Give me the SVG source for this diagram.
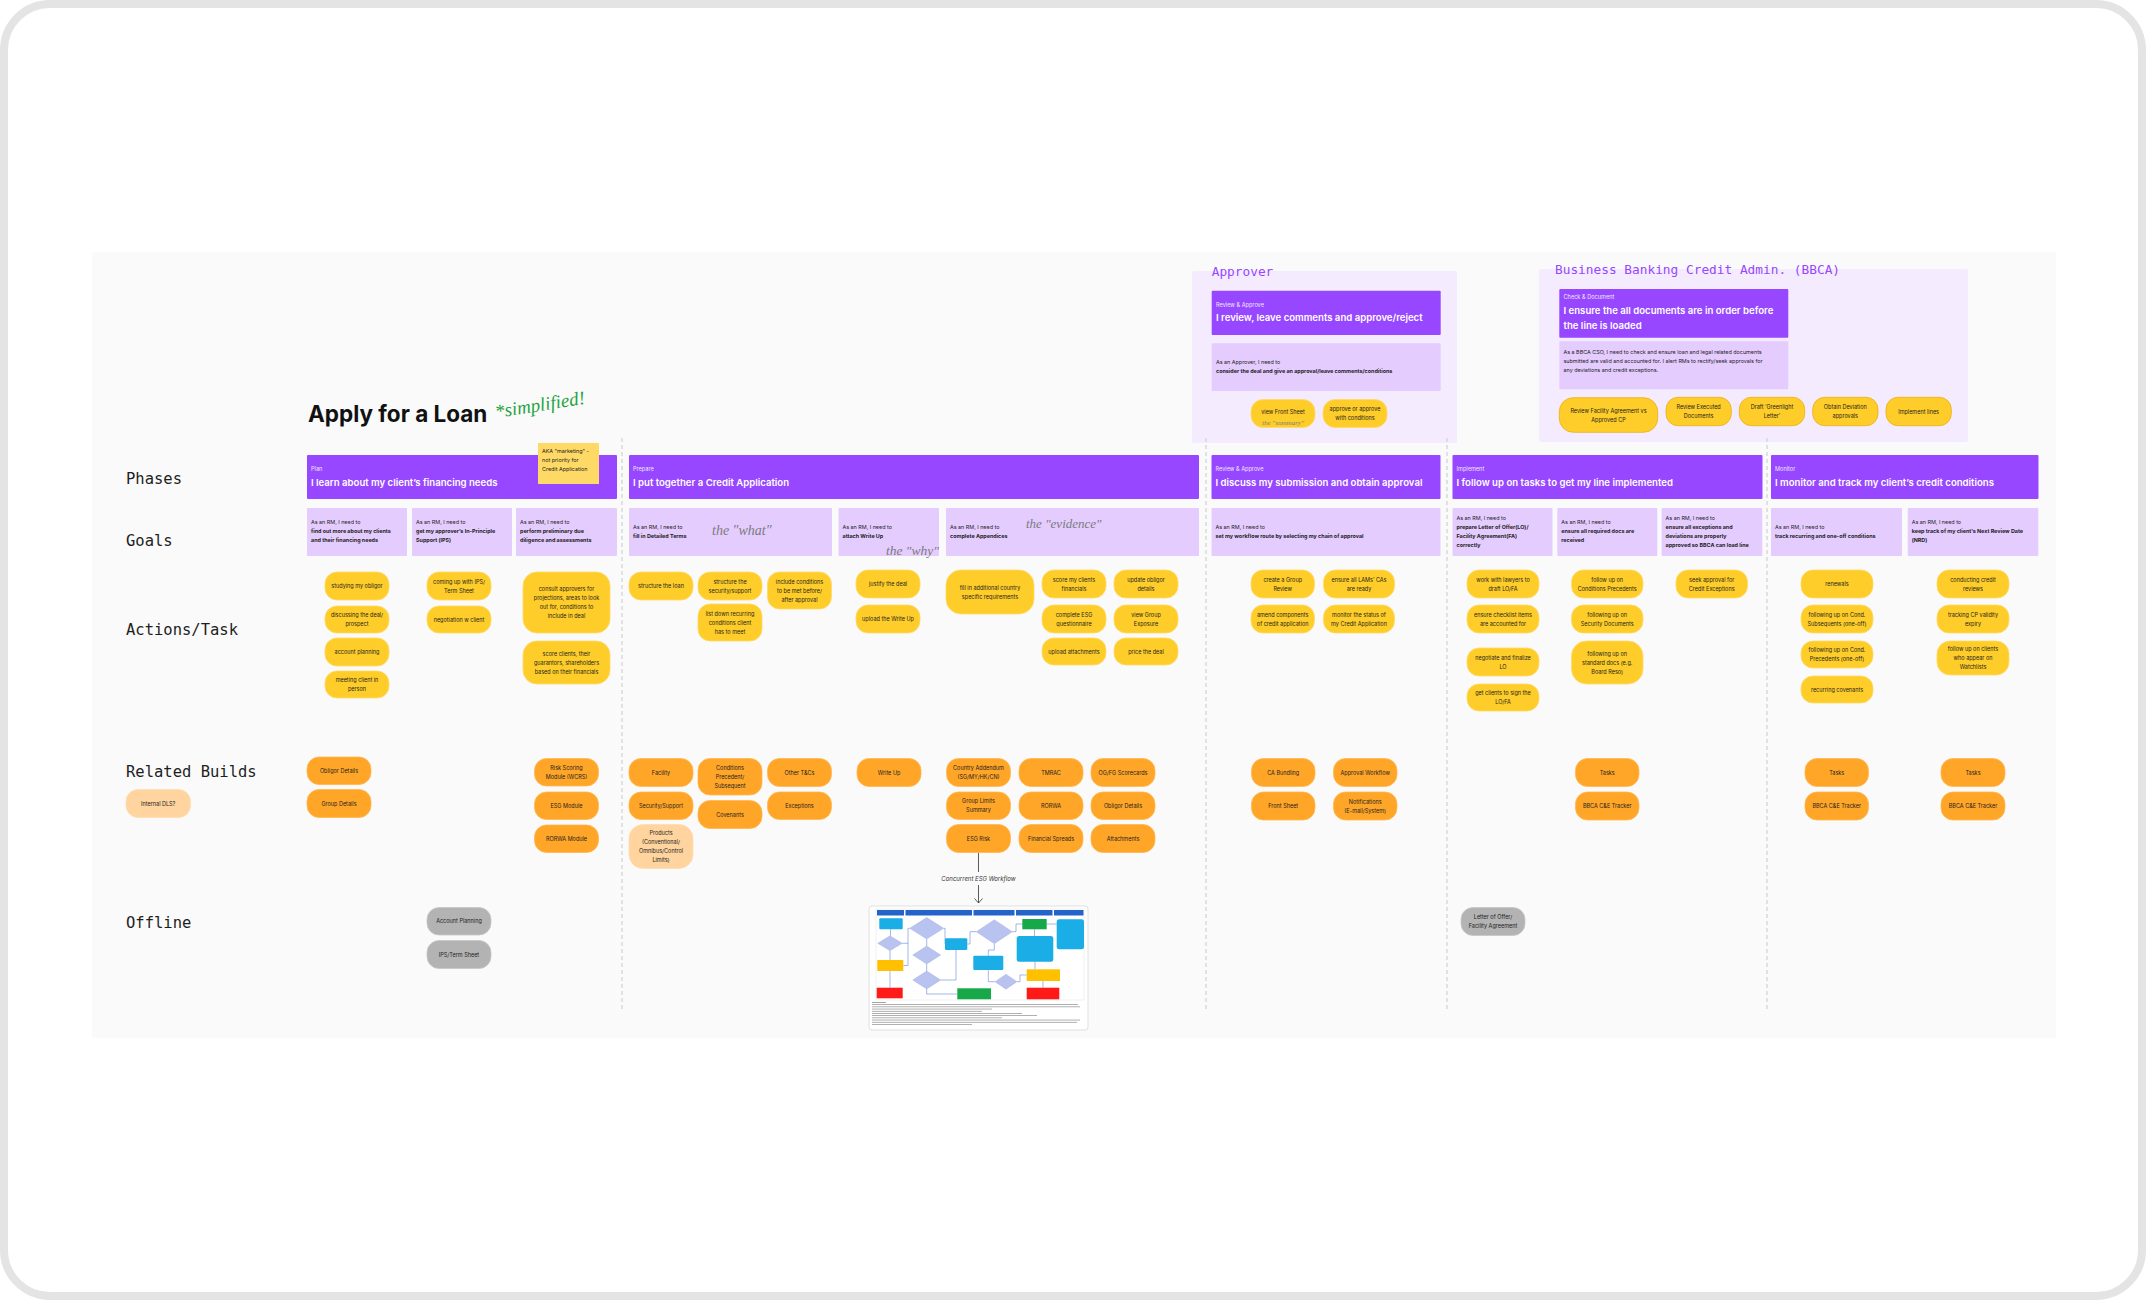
<svg xmlns="http://www.w3.org/2000/svg" width="2146" height="1300" viewBox="0 0 2146 1300">
<defs>
<style>
.hdr{fill:#9747FF}
.goal{fill:#E4CCFF}
.lane{fill:#F4EBFF}
.act{fill:#FFCD29;stroke:#FFD966;stroke-width:0.8}
.actb{fill:#FFCD29;stroke:#EAAE12;stroke-width:0.8}
.bld{fill:#FFA629;stroke:#FFB84F;stroke-width:0.8}
.bldl{fill:#FFD49E;stroke:#FFDDB3;stroke-width:0.8}
.off{fill:#B3B3B3;stroke:#C6C6C6;stroke-width:0.8}
.hs{font-family:Inter,"Liberation Sans",sans-serif;font-size:5.6px;fill:#F1E6FF}
.hm{font-family:Inter,"Liberation Sans",sans-serif;font-size:9.6px;font-weight:600;fill:#FFFFFF}
.g{font-family:Inter,"Liberation Sans",sans-serif;font-size:5.4px;fill:#1E1E1E}
.gb{font-weight:700}
.t{font-family:Inter,"Liberation Sans",sans-serif;font-size:5.5px;fill:#1E1E1E;text-anchor:middle}
.lbl{font-family:"DejaVu Sans Mono","Liberation Mono",monospace;font-size:15.5px;fill:#1E1E1E}
.role{font-family:"DejaVu Sans Mono","Liberation Mono",monospace;font-size:12.8px;fill:#9747FF}
.hand{font-family:"Liberation Serif",serif;font-style:italic;fill:#7B7B7B}
.dv{stroke:#C8C8C8;stroke-width:1;stroke-dasharray:4 3;fill:none}
.fl{stroke:#4A6FD0;stroke-width:0.5;fill:none}
.nt{fill:#8F8F8F}
</style>
</defs>

<g id="frame">
<rect x="4" y="4" width="2138" height="1292" rx="46" fill="#FFFFFF" stroke="#E4E4E4" stroke-width="8"/>
<rect x="92" y="252" width="1964" height="786" rx="2" fill="#FAFAFA"/>
</g>

<g id="role-approver">
<rect class="lane" x="1192" y="271" width="265" height="172" rx="2"/>
<text class="role" x="1211.7" y="275.7">Approver</text>
</g>
<g id="role-bbca">
<rect class="lane" x="1539" y="269" width="429" height="173" rx="2"/>
<text class="role" x="1555" y="274">Business Banking Credit Admin. (BBCA)</text>
</g>

<g id="connectors">
<line class="dv" x1="622" y1="438" x2="622" y2="1012"/>
<line class="dv" x1="1206" y1="438" x2="1206" y2="1012"/>
<line class="dv" x1="1447" y1="438" x2="1447" y2="1012"/>
<line class="dv" x1="1767" y1="438" x2="1767" y2="1012"/>
<line x1="978.5" y1="852.5" x2="978.5" y2="872" stroke="#333333" stroke-width="0.8"/>
<text x="978.5" y="880.5" text-anchor="middle" font-family="Inter,'Liberation Sans',sans-serif" font-size="6px" font-style="italic" fill="#333333">Concurrent ESG Workflow</text>
<line x1="978.5" y1="885" x2="978.5" y2="903" stroke="#333333" stroke-width="0.8"/>
<path d="M974.5,898.5 L978.5,903 L982.5,898.5" stroke="#333333" stroke-width="0.8" fill="none"/>
</g>

<g id="row-labels">
<text class="lbl" x="126" y="484">Phases</text>
<text class="lbl" x="126" y="546">Goals</text>
<text class="lbl" x="126" y="635">Actions/Task</text>
<text class="lbl" x="126" y="777">Related Builds</text>
<text class="lbl" x="126" y="928">Offline</text>
</g>

<g id="title">
<text x="308" y="422" font-family="Inter,'Liberation Sans',sans-serif" font-size="22.5px" font-weight="700" fill="#111111">Apply for a Loan</text>
<text x="496" y="418" transform="rotate(-9 496 418)" font-family="'Liberation Serif',serif" font-style="italic" font-size="19px" fill="#1FA33F">*simplified!</text>
</g>

<!-- PHASES -->
<g id="phase-plan">
<rect class="hdr" x="307" y="455" width="310" height="44" rx="1"/>
<text class="hs" x="311" y="471">Plan</text>
<text class="hm" x="311" y="486">I learn about my client’s financing needs</text>
</g>
<g id="note-aka">
<rect x="538" y="443" width="61" height="41" fill="#FFD966"/>
<text class="g" x="542" y="453">AKA "marketing" -</text>
<text class="g" x="542" y="462">not priority for</text>
<text class="g" x="542" y="471">Credit Application</text>
</g>
<g id="phase-prepare">
<rect class="hdr" x="629" y="455" width="570" height="44" rx="1"/>
<text class="hs" x="633" y="471">Prepare</text>
<text class="hm" x="633" y="486">I put together a Credit Application</text>
</g>
<g id="phase-review">
<rect class="hdr" x="1211.5" y="455" width="229" height="44" rx="1"/>
<text class="hs" x="1215.5" y="471">Review &amp; Approve</text>
<text class="hm" x="1215.5" y="486">I discuss my submission and obtain approval</text>
</g>
<g id="phase-implement">
<rect class="hdr" x="1452.5" y="455" width="310" height="44" rx="1"/>
<text class="hs" x="1456.5" y="471">Implement</text>
<text class="hm" x="1456.5" y="486">I follow up on tasks to get my line implemented</text>
</g>
<g id="phase-monitor">
<rect class="hdr" x="1771" y="455" width="267.5" height="44" rx="1"/>
<text class="hs" x="1775" y="471">Monitor</text>
<text class="hm" x="1775" y="486">I monitor and track my client’s credit conditions</text>
</g>
<g id="phase-approver">
<rect class="hdr" x="1211.7" y="290.7" width="229" height="44.3" rx="1"/>
<text class="hs" x="1216" y="306.7">Review &amp; Approve</text>
<text class="hm" x="1216" y="320.7">I review, leave comments and approve/reject</text>
</g>
<g id="phase-bbca">
<rect class="hdr" x="1559.3" y="289" width="229" height="48.7" rx="1"/>
<text class="hs" x="1563.5" y="299.3">Check &amp; Document</text>
<text class="hm" x="1563.5" y="314.3">I ensure the all documents are in order before</text>
<text class="hm" x="1563.5" y="329">the line is loaded</text>
</g>

<!-- GOALS -->
<g id="goal-plan-1"><rect class="goal" x="307" y="508" width="100" height="48" rx="1"/>
<text class="g" x="311" y="524.3">As an RM, I need to</text><text class="g gb" x="311" y="533.3">find out more about my clients</text><text class="g gb" x="311" y="542.3">and their financing needs</text></g>
<g id="goal-plan-2"><rect class="goal" x="412" y="508" width="100" height="48" rx="1"/>
<text class="g" x="416" y="524.3">As an RM, I need to</text><text class="g gb" x="416" y="533.3">get my approver’s In-Principle</text><text class="g gb" x="416" y="542.3">Support (IPS)</text></g>
<g id="goal-plan-3"><rect class="goal" x="516" y="508" width="101" height="48" rx="1"/>
<text class="g" x="520" y="524.3">As an RM, I need to</text><text class="g gb" x="520" y="533.3">perform preliminary due</text><text class="g gb" x="520" y="542.3">diligence and assessments</text></g>

<g id="goal-prep-1"><rect class="goal" x="629" y="508" width="203" height="48" rx="1"/>
<text class="g" x="633" y="529">As an RM, I need to</text><text class="g gb" x="633" y="538">fill in Detailed Terms</text>
<text class="hand" x="712" y="535" font-size="14px">the "what"</text></g>
<g id="goal-prep-2"><rect class="goal" x="838.5" y="508" width="100.5" height="48" rx="1"/>
<text class="g" x="842.5" y="529">As an RM, I need to</text><text class="g gb" x="842.5" y="538">attach Write Up</text></g>
<g id="goal-prep-3"><rect class="goal" x="946" y="508" width="253" height="48" rx="1"/>
<text class="g" x="950" y="529">As an RM, I need to</text><text class="g gb" x="950" y="538">complete Appendices</text>
<text class="hand" x="1026" y="528" font-size="13px">the "evidence"</text></g>
<text class="hand" x="886" y="555" font-size="13.5px">the "why"</text>

<g id="goal-review"><rect class="goal" x="1211.5" y="508" width="229" height="48" rx="1"/>
<text class="g" x="1215.5" y="529">As an RM, I need to</text><text class="g gb" x="1215.5" y="538">set my workflow route by selecting my chain of approval</text></g>

<g id="goal-impl-1"><rect class="goal" x="1452.5" y="508" width="100" height="48" rx="1"/>
<text class="g" x="1456.5" y="520">As an RM, I need to</text><text class="g gb" x="1456.5" y="529">prepare Letter of Offer(LO)/</text><text class="g gb" x="1456.5" y="538">Facility Agreement(FA)</text><text class="g gb" x="1456.5" y="547">correctly</text></g>
<g id="goal-impl-2"><rect class="goal" x="1557.3" y="508" width="100" height="48" rx="1"/>
<text class="g" x="1561.3" y="524">As an RM, I need to</text><text class="g gb" x="1561.3" y="533">ensure all required docs are</text><text class="g gb" x="1561.3" y="542">received</text></g>
<g id="goal-impl-3"><rect class="goal" x="1661.6" y="508" width="100.7" height="48" rx="1"/>
<text class="g" x="1665.6" y="520">As an RM, I need to</text><text class="g gb" x="1665.6" y="529">ensure all exceptions and</text><text class="g gb" x="1665.6" y="538">deviations are properly</text><text class="g gb" x="1665.6" y="547">approved so BBCA can load line</text></g>

<g id="goal-mon-1"><rect class="goal" x="1771" y="508" width="131" height="48" rx="1"/>
<text class="g" x="1775" y="529">As an RM, I need to</text><text class="g gb" x="1775" y="538">track recurring and one-off conditions</text></g>
<g id="goal-mon-2"><rect class="goal" x="1907.7" y="508" width="130.6" height="48" rx="1"/>
<text class="g" x="1911.7" y="524">As an RM, I need to</text><text class="g gb" x="1911.7" y="533">keep track of my client’s Next Review Date</text><text class="g gb" x="1911.7" y="542">(NRD)</text></g>

<g id="goal-approver"><rect class="goal" x="1211.7" y="343.3" width="229" height="47.7" rx="1"/>
<text class="g" x="1216" y="364.3">As an Approver, I need to</text><text class="g gb" x="1216" y="373.3">consider the deal and give an approval/leave comments/conditions</text></g>
<g id="goal-bbca"><rect class="goal" x="1559.3" y="341.3" width="229" height="48" rx="1"/>
<text class="g" x="1563.5" y="354.3">As a BBCA CSO, I need to check and ensure loan and legal related documents</text><text class="g" x="1563.5" y="363.3">submitted are valid and accounted for. I alert RMs to rectify/seek approvals for</text><text class="g" x="1563.5" y="372.3">any deviations and credit exceptions.</text></g>

<!-- ACTIONS: PLAN -->
<g id="act-studying"><rect class="act" x="325" y="572" width="64" height="28" rx="12"/><text class="t" x="357" y="588">studying my obligor</text></g>
<g id="act-discussing"><rect class="act" x="325" y="606" width="64" height="27" rx="12"/><text class="t"><tspan x="357" y="617">discussing the deal/</tspan><tspan x="357" y="626">prospect</tspan></text></g>
<g id="act-accplan"><rect class="act" x="325" y="638" width="64" height="28" rx="12"/><text class="t" x="357" y="654">account planning</text></g>
<g id="act-meeting"><rect class="act" x="325" y="671" width="64" height="27" rx="12"/><text class="t"><tspan x="357" y="682">meeting client in</tspan><tspan x="357" y="691">person</tspan></text></g>
<g id="act-ips"><rect class="act" x="427" y="572" width="64" height="28" rx="12"/><text class="t"><tspan x="459" y="583.5">coming up with IPS/</tspan><tspan x="459" y="592.5">Term Sheet</tspan></text></g>
<g id="act-negotiation"><rect class="act" x="427" y="606" width="64" height="27" rx="12"/><text class="t" x="459" y="621.5">negotiation w client</text></g>
<g id="act-consult"><rect class="act" x="523" y="572" width="87" height="61" rx="14"/><text class="t"><tspan x="566.5" y="591">consult approvers for</tspan><tspan x="566.5" y="600">projections, areas to look</tspan><tspan x="566.5" y="609">out for, conditions to</tspan><tspan x="566.5" y="618">include in deal</tspan></text></g>
<g id="act-score"><rect class="act" x="523" y="641" width="87" height="43" rx="14"/><text class="t"><tspan x="566.5" y="655.5">score clients, their</tspan><tspan x="566.5" y="664.5">guarantors, shareholders</tspan><tspan x="566.5" y="673.5">based on their financials</tspan></text></g>

<!-- ACTIONS: PREPARE -->
<g id="act-structloan"><rect class="act" x="629" y="572" width="64" height="28" rx="12"/><text class="t" x="661" y="588">structure the loan</text></g>
<g id="act-structsec"><rect class="act" x="698" y="572" width="64" height="28" rx="12"/><text class="t"><tspan x="730" y="583.5">structure the</tspan><tspan x="730" y="592.5">security/support</tspan></text></g>
<g id="act-listdown"><rect class="act" x="698" y="604" width="64" height="37" rx="12"/><text class="t"><tspan x="730" y="615.5">list down recurring</tspan><tspan x="730" y="624.5">conditions client</tspan><tspan x="730" y="633.5">has to meet</tspan></text></g>
<g id="act-include"><rect class="act" x="767.5" y="572" width="64" height="37" rx="12"/><text class="t"><tspan x="799.5" y="583.5">include conditions</tspan><tspan x="799.5" y="592.5">to be met before/</tspan><tspan x="799.5" y="601.5">after approval</tspan></text></g>
<g id="act-justify"><rect class="act" x="856" y="570" width="64" height="28" rx="12"/><text class="t" x="888" y="586">justify the deal</text></g>
<g id="act-upload-wu"><rect class="act" x="856" y="605" width="64" height="28" rx="12"/><text class="t" x="888" y="621">upload the Write Up</text></g>
<g id="act-country"><rect class="act" x="946" y="570" width="88" height="44" rx="15"/><text class="t"><tspan x="990" y="589.5">fill in additional country</tspan><tspan x="990" y="598.5">specific requirements</tspan></text></g>
<g id="act-scorefin"><rect class="act" x="1042" y="570" width="64" height="28" rx="12"/><text class="t"><tspan x="1074" y="581.5">score my clients</tspan><tspan x="1074" y="590.5">financials</tspan></text></g>
<g id="act-esgq"><rect class="act" x="1042" y="605" width="64" height="28" rx="12"/><text class="t"><tspan x="1074" y="616.5">complete ESG</tspan><tspan x="1074" y="625.5">questionnaire</tspan></text></g>
<g id="act-uploadatt"><rect class="act" x="1042" y="638" width="64" height="27" rx="12"/><text class="t" x="1074" y="653.5">upload attachments</text></g>
<g id="act-updobl"><rect class="act" x="1114" y="570" width="64" height="28" rx="12"/><text class="t"><tspan x="1146" y="581.5">update obligor</tspan><tspan x="1146" y="590.5">details</tspan></text></g>
<g id="act-grpexp"><rect class="act" x="1114" y="605" width="64" height="28" rx="12"/><text class="t"><tspan x="1146" y="616.5">view Group</tspan><tspan x="1146" y="625.5">Exposure</tspan></text></g>
<g id="act-price"><rect class="act" x="1114" y="638" width="64" height="27" rx="12"/><text class="t" x="1146" y="653.5">price the deal</text></g>

<!-- ACTIONS: REVIEW -->
<g id="act-grpreview"><rect class="act" x="1251" y="570" width="63.5" height="28" rx="12"/><text class="t"><tspan x="1282.7" y="581.5">create a Group</tspan><tspan x="1282.7" y="590.5">Review</tspan></text></g>
<g id="act-lams"><rect class="act" x="1323.5" y="570" width="71" height="28" rx="12"/><text class="t"><tspan x="1359" y="581.5">ensure all LAMs’ CAs</tspan><tspan x="1359" y="590.5">are ready</tspan></text></g>
<g id="act-amend"><rect class="act" x="1251" y="605" width="63.5" height="28" rx="12"/><text class="t"><tspan x="1282.7" y="616.5">amend components</tspan><tspan x="1282.7" y="625.5">of credit application</tspan></text></g>
<g id="act-monitorstatus"><rect class="act" x="1323.5" y="605" width="71" height="28" rx="12"/><text class="t"><tspan x="1359" y="616.5">monitor the status of</tspan><tspan x="1359" y="625.5">my Credit Application</tspan></text></g>

<!-- ACTIONS: IMPLEMENT -->
<g id="act-lawyers"><rect class="act" x="1467" y="570" width="72" height="28" rx="12"/><text class="t"><tspan x="1503" y="581.5">work with lawyers to</tspan><tspan x="1503" y="590.5">draft LO/FA</tspan></text></g>
<g id="act-checklist"><rect class="act" x="1467" y="605" width="72" height="28" rx="12"/><text class="t"><tspan x="1503" y="616.5">ensure checklist items</tspan><tspan x="1503" y="625.5">are accounted for</tspan></text></g>
<g id="act-negotiate"><rect class="act" x="1467" y="648" width="72" height="28" rx="12"/><text class="t"><tspan x="1503" y="659.5">negotiate and finalize</tspan><tspan x="1503" y="668.5">LO</tspan></text></g>
<g id="act-sign"><rect class="act" x="1467" y="684" width="72" height="27" rx="12"/><text class="t"><tspan x="1503" y="695">get clients to sign the</tspan><tspan x="1503" y="704">LO/FA</tspan></text></g>
<g id="act-cp"><rect class="act" x="1571.5" y="570" width="71.5" height="28" rx="12"/><text class="t"><tspan x="1607.2" y="581.5">follow up on</tspan><tspan x="1607.2" y="590.5">Conditions Precedents</tspan></text></g>
<g id="act-secdocs"><rect class="act" x="1571.5" y="605" width="71.5" height="28" rx="12"/><text class="t"><tspan x="1607.2" y="616.5">following up on</tspan><tspan x="1607.2" y="625.5">Security Documents</tspan></text></g>
<g id="act-stddocs"><rect class="act" x="1571.5" y="641" width="71.5" height="43" rx="15"/><text class="t"><tspan x="1607.2" y="655.5">following up on</tspan><tspan x="1607.2" y="664.5">standard docs (e.g.</tspan><tspan x="1607.2" y="673.5">Board Reso)</tspan></text></g>
<g id="act-exceptions"><rect class="act" x="1676" y="570" width="71.5" height="28" rx="12"/><text class="t"><tspan x="1711.7" y="581.5">seek approval for</tspan><tspan x="1711.7" y="590.5">Credit Exceptions</tspan></text></g>

<!-- ACTIONS: MONITOR -->
<g id="act-renewals"><rect class="act" x="1801" y="570" width="72" height="28" rx="12"/><text class="t" x="1837" y="586">renewals</text></g>
<g id="act-cs"><rect class="act" x="1801" y="605" width="72" height="28" rx="12"/><text class="t"><tspan x="1837" y="616.5">following up on Cond.</tspan><tspan x="1837" y="625.5">Subsequents (one-off)</tspan></text></g>
<g id="act-cpo"><rect class="act" x="1801" y="641" width="72" height="27" rx="12"/><text class="t"><tspan x="1837" y="652">following up on Cond.</tspan><tspan x="1837" y="661">Precedents (one-off)</tspan></text></g>
<g id="act-covenants"><rect class="act" x="1801" y="676" width="72" height="27" rx="12"/><text class="t" x="1837" y="691.5">recurring covenants</text></g>
<g id="act-creditrev"><rect class="act" x="1937" y="570" width="72" height="28" rx="12"/><text class="t"><tspan x="1973" y="581.5">conducting credit</tspan><tspan x="1973" y="590.5">reviews</tspan></text></g>
<g id="act-cpvalid"><rect class="act" x="1937" y="605" width="72" height="28" rx="12"/><text class="t"><tspan x="1973" y="616.5">tracking CP validity</tspan><tspan x="1973" y="625.5">expiry</tspan></text></g>
<g id="act-watchlist"><rect class="act" x="1937" y="641" width="72" height="34" rx="13"/><text class="t"><tspan x="1973" y="651">follow up on clients</tspan><tspan x="1973" y="660">who appear on</tspan><tspan x="1973" y="669">Watchlists</tspan></text></g>

<!-- ACTIONS: APPROVER -->
<g id="act-frontsheet"><rect class="act" x="1251" y="399.5" width="64" height="28" rx="12"/><text class="t" x="1283" y="414.3">view Front Sheet</text><text class="hand" x="1283" y="425" font-size="7px" text-anchor="middle">the "summary"</text></g>
<g id="act-approve"><rect class="act" x="1323" y="399.5" width="64" height="28" rx="12"/><text class="t"><tspan x="1355" y="411">approve or approve</tspan><tspan x="1355" y="420">with conditions</tspan></text></g>

<!-- ACTIONS: BBCA -->
<g id="act-rfa"><rect class="actb" x="1559.3" y="397.7" width="98.4" height="34.6" rx="14"/><text class="t"><tspan x="1608.5" y="412.7">Review Facility Agreement vs</tspan><tspan x="1608.5" y="421.7">Approved CP</tspan></text></g>
<g id="act-red"><rect class="actb" x="1666" y="397.3" width="65.3" height="28.4" rx="12"/><text class="t"><tspan x="1698.6" y="409.3">Review Executed</tspan><tspan x="1698.6" y="418.3">Documents</tspan></text></g>
<g id="act-green"><rect class="actb" x="1739.3" y="397.3" width="65.4" height="28.4" rx="12"/><text class="t"><tspan x="1772" y="409.3">Draft ‘Greenlight</tspan><tspan x="1772" y="418.3">Letter’</tspan></text></g>
<g id="act-deviation"><rect class="actb" x="1812.7" y="397.3" width="65.3" height="28.4" rx="12"/><text class="t"><tspan x="1845.3" y="409.3">Obtain Deviation</tspan><tspan x="1845.3" y="418.3">approvals</tspan></text></g>
<g id="act-implines"><rect class="actb" x="1886" y="397.3" width="65.3" height="28.4" rx="12"/><text class="t" x="1918.6" y="413.5">Implement lines</text></g>

<!-- RELATED BUILDS -->
<g id="b-dls"><rect class="bldl" x="126" y="789.5" width="64.5" height="28" rx="12"/><text class="t" x="158.2" y="805.5">Internal DLS?</text></g>
<g id="b-obligor1"><rect class="bld" x="307" y="757" width="64" height="27.5" rx="12"/><text class="t" x="339" y="772.7">Obligor Details</text></g>
<g id="b-group"><rect class="bld" x="307" y="789.5" width="64" height="28" rx="12"/><text class="t" x="339" y="805.5">Group Details</text></g>
<g id="b-wcrs"><rect class="bld" x="534.5" y="758.5" width="64" height="27.5" rx="12"/><text class="t"><tspan x="566.5" y="769.5">Risk Scoring</tspan><tspan x="566.5" y="778.5">Module (WCRS)</tspan></text></g>
<g id="b-esgmod"><rect class="bld" x="534.5" y="792" width="64" height="27.5" rx="12"/><text class="t" x="566.5" y="807.7">ESG Module</text></g>
<g id="b-rorwamod"><rect class="bld" x="534.5" y="825" width="64" height="27.5" rx="12"/><text class="t" x="566.5" y="840.7">RORWA Module</text></g>

<g id="b-facility"><rect class="bld" x="629" y="758.5" width="64" height="28" rx="12"/><text class="t" x="661" y="774.5">Facility</text></g>
<g id="b-security"><rect class="bld" x="629" y="792" width="64" height="27.5" rx="12"/><text class="t" x="661" y="807.7">Security/Support</text></g>
<g id="b-products"><rect class="bldl" x="629" y="824.5" width="64" height="44" rx="14"/><text class="t"><tspan x="661" y="835.3">Products</tspan><tspan x="661" y="844.3">(Conventional/</tspan><tspan x="661" y="853.3">Omnibus/Control</tspan><tspan x="661" y="862.3">Limits)</tspan></text></g>
<g id="b-cps"><rect class="bld" x="698" y="758.5" width="64" height="36.5" rx="12"/><text class="t"><tspan x="730" y="769.7">Conditions</tspan><tspan x="730" y="778.7">Precedent/</tspan><tspan x="730" y="787.7">Subsequent</tspan></text></g>
<g id="b-covenants"><rect class="bld" x="698" y="800.5" width="64" height="28" rx="12"/><text class="t" x="730" y="816.5">Covenants</text></g>
<g id="b-othertc"><rect class="bld" x="767.5" y="758.5" width="64" height="28" rx="12"/><text class="t" x="799.5" y="774.5">Other T&amp;Cs</text></g>
<g id="b-exceptions"><rect class="bld" x="767.5" y="792" width="64" height="27.5" rx="12"/><text class="t" x="799.5" y="807.7">Exceptions</text></g>
<g id="b-writeup"><rect class="bld" x="857" y="758.5" width="64" height="28" rx="12"/><text class="t" x="889" y="774.5">Write Up</text></g>
<g id="b-country"><rect class="bld" x="946.5" y="758.5" width="64" height="28" rx="12"/><text class="t"><tspan x="978.5" y="770">Country Addendum</tspan><tspan x="978.5" y="779">(SG/MY/HK/CN)</tspan></text></g>
<g id="b-grplimits"><rect class="bld" x="946.5" y="792" width="64" height="27.5" rx="12"/><text class="t"><tspan x="978.5" y="803.2">Group Limits</tspan><tspan x="978.5" y="812.2">Summary</tspan></text></g>
<g id="b-esgrisk"><rect class="bld" x="946.5" y="824.5" width="64" height="28" rx="12"/><text class="t" x="978.5" y="840.5">ESG Risk</text></g>
<g id="b-tmrac"><rect class="bld" x="1019" y="758.5" width="64" height="28" rx="12"/><text class="t" x="1051" y="774.5">TMRAC</text></g>
<g id="b-rorwa"><rect class="bld" x="1019" y="792" width="64" height="27.5" rx="12"/><text class="t" x="1051" y="807.7">RORWA</text></g>
<g id="b-spreads"><rect class="bld" x="1019" y="824.5" width="64" height="28" rx="12"/><text class="t" x="1051" y="840.5">Financial Spreads</text></g>
<g id="b-scorecards"><rect class="bld" x="1091" y="758.5" width="64" height="28" rx="12"/><text class="t" x="1123" y="774.5">OG/FG Scorecards</text></g>
<g id="b-obligor2"><rect class="bld" x="1091" y="792" width="64" height="27.5" rx="12"/><text class="t" x="1123" y="807.7">Obligor Details</text></g>
<g id="b-attach"><rect class="bld" x="1091" y="824.5" width="64" height="28" rx="12"/><text class="t" x="1123" y="840.5">Attachments</text></g>

<g id="b-cabundling"><rect class="bld" x="1251.5" y="758.5" width="63.5" height="28" rx="12"/><text class="t" x="1283.2" y="774.5">CA Bundling</text></g>
<g id="b-frontsheet"><rect class="bld" x="1251.5" y="792" width="63.5" height="28" rx="12"/><text class="t" x="1283.2" y="808">Front Sheet</text></g>
<g id="b-approvalwf"><rect class="bld" x="1333.5" y="758.5" width="63.5" height="28" rx="12"/><text class="t" x="1365.2" y="774.5">Approval Workflow</text></g>
<g id="b-notif"><rect class="bld" x="1333.5" y="792" width="63.5" height="28" rx="12"/><text class="t"><tspan x="1365.2" y="803.5">Notifications</tspan><tspan x="1365.2" y="812.5">(E-mail/System)</tspan></text></g>
<g id="b-tasks1"><rect class="bld" x="1575.5" y="758.5" width="63.5" height="28" rx="12"/><text class="t" x="1607.2" y="774.5">Tasks</text></g>
<g id="b-tracker1"><rect class="bld" x="1575.5" y="792" width="63.5" height="28" rx="12"/><text class="t" x="1607.2" y="808">BBCA C&amp;E Tracker</text></g>
<g id="b-tasks2"><rect class="bld" x="1805" y="758.5" width="63.5" height="28" rx="12"/><text class="t" x="1836.7" y="774.5">Tasks</text></g>
<g id="b-tracker2"><rect class="bld" x="1805" y="792" width="63.5" height="28" rx="12"/><text class="t" x="1836.7" y="808">BBCA C&amp;E Tracker</text></g>
<g id="b-tasks3"><rect class="bld" x="1941" y="758.5" width="64" height="28" rx="12"/><text class="t" x="1973" y="774.5">Tasks</text></g>
<g id="b-tracker3"><rect class="bld" x="1941" y="792" width="64" height="28" rx="12"/><text class="t" x="1973" y="808">BBCA C&amp;E Tracker</text></g>

<!-- OFFLINE -->
<g id="o-accplan"><rect class="off" x="427" y="907.5" width="64" height="27.5" rx="12"/><text class="t" x="459" y="923.2">Account Planning</text></g>
<g id="o-ips"><rect class="off" x="427" y="940.5" width="64" height="28" rx="12"/><text class="t" x="459" y="956.5">IPS/Term Sheet</text></g>
<g id="o-lofa"><rect class="off" x="1461" y="907.5" width="64" height="28" rx="12"/><text class="t"><tspan x="1493" y="919">Letter of Offer/</tspan><tspan x="1493" y="928">Facility Agreement</tspan></text></g>

<!-- ESG WORKFLOW PICTURE -->
<g id="esg-workflow">
<rect x="869" y="906" width="219" height="124" rx="3" fill="#FFFFFF" stroke="#D9D9D9" stroke-width="0.8"/>
<rect x="876" y="909" width="208" height="91" fill="none" stroke="#DADADA" stroke-width="0.4"/>
<g fill="#2463C9">
<rect x="877" y="910" width="27" height="5.5"/>
<rect x="905.5" y="910" width="66.5" height="5.5"/>
<rect x="973.5" y="910" width="41" height="5.5"/>
<rect x="1016" y="910" width="36.5" height="5.5"/>
<rect x="1054" y="910" width="29.5" height="5.5"/>
</g>
<g class="fl">
<path d="M890.5,929.3 V935.8"/>
<path d="M890,950.8 V960"/>
<path d="M890,971 V987.7"/>
<path d="M902.3,943.3 H908 V928.3 H909.7"/>
<path d="M903.3,965.5 H908 V943.3"/>
<path d="M926.7,939.1 V946"/>
<path d="M926.7,964 V971"/>
<path d="M940.7,980 H956 V950"/>
<path d="M926.7,989 V994 H957.3"/>
<path d="M943.7,928.3 H945 V944 H945"/>
<path d="M967.3,944 H970 V931.7 H976.3"/>
<path d="M994.3,943.7 V950 H988.3 V955.7"/>
<path d="M988.3,970 V981.7 H995"/>
<path d="M1017,981.7 H1020 V975 H1026.7"/>
<path d="M1012.3,931.7 H1016 V924 H1022.3"/>
<path d="M1034.5,929.3 V936"/>
<path d="M1043,981 V987.7"/>
<path d="M1046.7,924 H1056.7"/>
<path d="M1035,961.7 V969.3"/>
</g>
<g fill="#1BADE6">
<rect x="879.3" y="918.3" width="23.4" height="11" rx="1"/>
<rect x="945" y="938.3" width="22.3" height="11.7" rx="1"/>
<rect x="973.3" y="955.7" width="30" height="14.3" rx="1"/>
<rect x="1016.7" y="936" width="36.6" height="25.7" rx="2.5"/>
<rect x="1056.7" y="919.3" width="27.3" height="30" rx="2.5"/>
</g>
<g fill="#B9C3F0" stroke="#8E9BDA" stroke-width="0.3">
<polygon points="877.7,943.3 890,935.8 902.3,943.3 890,950.8"/>
<polygon points="909.7,928.3 926.7,917.5 943.7,928.3 926.7,939.1"/>
<polygon points="912.7,955 926.7,946 940.7,955 926.7,964"/>
<polygon points="912.7,980 926.7,971 940.7,980 926.7,989"/>
<polygon points="976.3,931.7 994.3,919.7 1012.3,931.7 994.3,943.7"/>
<polygon points="995,981.7 1006,974.2 1017,981.7 1006,989.2"/>
</g>
<g fill="#FFC000">
<rect x="877.3" y="960" width="26" height="11"/>
<rect x="1026.7" y="969.3" width="33.3" height="11.7"/>
</g>
<g fill="#FF1A1A">
<rect x="876.7" y="987.7" width="26" height="10.6"/>
<rect x="1026.7" y="987.7" width="32.6" height="11.6"/>
</g>
<g fill="#17A84A">
<rect x="957.3" y="988.3" width="33.7" height="11"/>
<rect x="1022.3" y="919" width="24.4" height="10.3"/>
</g>
<g class="nt">
<rect x="872" y="1002" width="14" height="0.8"/>
<rect x="872" y="1004.3" width="206" height="0.7"/>
<rect x="872" y="1006.5" width="208" height="0.7"/>
<rect x="872" y="1008.7" width="120" height="0.7"/>
<rect x="872" y="1010.9" width="110" height="0.7"/>
<rect x="872" y="1013.1" width="150" height="0.7"/>
<rect x="872" y="1015.3" width="165" height="0.7"/>
<rect x="872" y="1017.5" width="130" height="0.7"/>
<rect x="872" y="1019.7" width="208" height="0.7"/>
<rect x="872" y="1021.9" width="205" height="0.7"/>
<rect x="872" y="1024.1" width="100" height="0.7"/>
</g>
</g>
</svg>
